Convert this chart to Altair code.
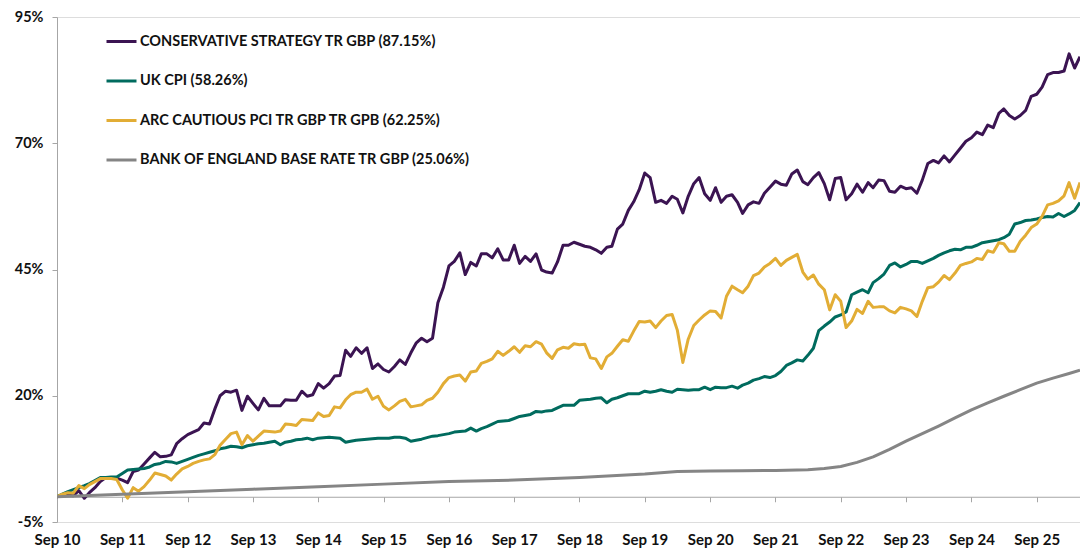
import altair as alt
import pandas as pd

# ---- data (monthly, Sep 2010 .. May 2026) ----
start_month = "2010-09-01"
n_months = 189

conservative = [
    0, 0.3, 0.6, 0.2, 1.2, -0.3, 0.8, 1.8, 3.0, 3.8, 3.8, 3.7,
    3.3, 2.8, 5.0, 5.3, 6.5, 7.7, 8.8, 7.9, 8.0, 8.3, 10.5, 11.5,
    12.3, 12.8, 13.3, 14.6, 14.4, 17.5, 20.0, 20.9, 20.7, 21.1, 17.1, 19.9,
    18.5, 17.2, 19.5, 18.0, 18.0, 18.0, 19.2, 19.1, 19.1, 20.9, 19.9, 20.2,
    22.4, 21.5, 22.4, 23.9, 24.0, 29.0, 27.8, 29.5, 28.4, 29.5, 25.4, 26.3,
    25.2, 24.7, 25.8, 27.1, 26.2, 28.5, 30.4, 31.4, 30.7, 31.4, 38.4, 41.5,
    45.7, 46.6, 48.3, 44.0, 46.4, 45.7, 48.1, 48.1, 47.3, 49.1, 46.9, 46.9,
    49.8, 46.2, 47.6, 46.6, 48.1, 44.9, 44.5, 44.3, 46.5, 49.8, 49.8, 50.4,
    50.0, 49.6, 49.4, 48.9, 48.2, 49.4, 49.6, 53.0, 54.0, 56.7, 58.4, 60.8,
    64.1, 63.2, 58.3, 58.7, 58.1, 59.5, 58.9, 56.2, 59.5, 62.0, 63.2, 60.0,
    58.7, 61.2, 58.3, 59.5, 59.8, 58.3, 56.1, 57.8, 58.4, 58.1, 60.1, 61.3,
    62.5, 61.9, 61.7, 63.9, 64.7, 62.4, 61.8, 63.2, 64.2, 62.0, 58.8, 63.0,
    63.2, 58.8, 60.0, 61.9, 60.3, 62.2, 61.2, 62.7, 62.6, 60.5, 60.3, 61.5,
    61.0, 61.2, 60.1, 62.7, 66.0, 66.6, 66.1, 67.5, 66.3, 67.7, 69.0, 70.4,
    71.1, 72.2, 71.7, 73.6, 73.1, 75.9, 76.8, 75.5, 74.8, 75.5, 76.5, 79.3,
    79.7, 81.1, 83.6, 84.0, 84.0, 84.3, 87.7, 84.9, 87.15,
]

uk_cpi = [
    0, 0.5, 1.0, 1.4, 1.8, 2.2, 2.6, 3.2, 3.8, 3.8, 3.9, 3.9,
    4.6, 5.3, 5.4, 5.5, 5.6, 5.9, 6.4, 6.6, 7.0, 6.9, 6.6, 7.0,
    7.4, 7.8, 8.2, 8.5, 8.8, 9.1, 9.5, 9.7, 10.0, 9.9, 9.7, 10.1,
    10.3, 10.5, 10.6, 10.8, 11.0, 10.3, 10.8, 11.0, 11.3, 11.4, 11.6, 11.3,
    11.6, 11.7, 11.8, 11.7, 11.6, 10.8, 11.0, 11.2, 11.3, 11.4, 11.5, 11.6,
    11.6, 11.6, 11.8, 11.8, 11.6, 11.0, 11.2, 11.4, 11.7, 12.0, 12.1, 12.3,
    12.5, 12.8, 12.9, 13.0, 13.6, 13.0, 13.5, 13.9, 14.4, 14.9, 15.0, 15.1,
    15.5, 15.9, 16.1, 16.3, 16.9, 16.8, 17.0, 17.1, 17.6, 18.1, 18.1, 18.1,
    19.1, 19.2, 19.3, 19.5, 19.6, 18.6, 19.3, 19.6, 20.0, 20.4, 20.4, 20.4,
    20.9, 20.7, 20.9, 21.2, 20.9, 20.7, 21.3, 21.2, 21.1, 21.2, 21.2, 21.7,
    21.2, 21.7, 21.6, 21.6, 21.9, 21.5, 22.1, 22.5, 23.1, 23.4, 23.8, 23.6,
    24.0, 24.8, 26.0, 26.5, 27.1, 26.9, 28.0, 29.4, 32.9, 33.8, 34.6, 35.6,
    36.0, 36.6, 40.0, 40.5, 41.0, 40.4, 42.4, 43.2, 44.1, 45.8, 46.3, 45.5,
    46.0, 46.6, 46.6, 46.2, 46.7, 47.2, 47.8, 48.3, 48.7, 49.0, 48.9, 49.4,
    49.4, 49.8, 50.3, 50.5, 50.7, 50.9, 51.3, 52.0, 54.0, 54.3, 54.7, 54.8,
    55.0, 55.3, 55.5, 55.4, 56.1, 55.5, 56.0, 56.7, 58.26,
]

arc_cautious = [
    0, 0.5, 0.8, 0.7, 2.2, 1.6, 2.4, 3.0, 3.6, 3.6, 3.6, 3.4,
    1.4, -0.3, 1.8, 1.1, 2.0, 3.3, 4.7, 4.4, 4.1, 3.3, 4.5, 5.5,
    6.0, 6.6, 7.0, 7.3, 7.5, 8.4, 10.2, 11.4, 12.5, 12.8, 10.3, 12.1,
    11.0, 12.0, 13.0, 12.9, 12.8, 13.0, 14.4, 14.3, 14.1, 15.3, 15.2, 15.1,
    16.6, 15.9, 16.1, 17.8, 17.6, 19.2, 20.2, 20.7, 20.7, 21.3, 19.3, 19.9,
    17.9, 17.2, 18.0, 18.9, 19.3, 17.8, 18.0, 18.2, 19.1, 19.5, 20.7, 22.4,
    23.6, 23.9, 24.1, 22.9, 24.7, 24.9, 26.4, 26.8, 27.3, 28.8, 28.0, 28.8,
    29.7, 28.6, 29.9, 29.7, 30.7, 30.2, 28.5, 27.4, 29.1, 29.6, 29.4, 30.3,
    30.1, 30.2, 27.5, 27.3, 25.4, 27.7, 28.4, 29.8, 31.1, 30.8, 32.8, 34.7,
    34.6, 34.8, 33.5, 34.8, 35.9, 36.1, 33.0, 26.6, 31.2, 33.9, 35.0, 36.0,
    36.8, 36.7, 35.4, 39.7, 41.7, 41.0, 40.4, 41.7, 43.8, 44.3, 45.5, 46.2,
    47.2, 45.8, 46.8, 47.4, 48.0, 44.5, 43.1, 43.9, 42.1, 41.0, 37.0, 40.0,
    38.7, 33.5, 34.8, 37.1, 36.3, 38.7, 37.5, 37.6, 37.6, 36.8, 36.4, 37.5,
    37.2, 36.8, 35.7, 38.7, 41.4, 41.6, 42.5, 43.8, 43.0, 44.3, 45.8, 46.2,
    46.5, 47.2, 47.0, 48.7, 48.4, 50.3, 50.1, 48.6, 48.6, 50.6, 51.8, 53.3,
    54.0, 55.5, 57.8, 58.1, 58.6, 59.6, 62.2, 59.1, 62.25,
]

# Bank of England base rate: smooth curve, read at these month indices
boe_month_idx = [0, 12, 24, 36, 48, 60, 72, 84, 96, 108, 114, 120, 126, 132, 138,
                 141, 144, 147, 150, 153, 156, 159, 162, 165, 168, 171, 174, 177,
                 180, 183, 186, 188]
boe_values = [0, 0.5, 1.0, 1.5, 2.0, 2.5, 3.0, 3.3, 3.8, 4.5, 5.0, 5.1, 5.15, 5.2, 5.35,
              5.6, 6.0, 6.8, 7.9, 9.4, 11.0, 12.5, 14.0, 15.6, 17.2, 18.6, 19.9, 21.2,
              22.5, 23.5, 24.4, 25.06]

series_names = [
    "CONSERVATIVE STRATEGY TR GBP (87.15%)",
    "UK CPI (58.26%)",
    "ARC CAUTIOUS PCI TR GBP TR GPB (62.25%)",
    "BANK OF ENGLAND BASE RATE TR GBP (25.06%)",
]
series_colors = ["#3b1452", "#006b5e", "#e2ad35", "#858585"]

y_ticks = [-5, 20, 45, 70, 95]
x_tick_years = list(range(2010, 2026))

# ---- build table ----
dates = pd.date_range(start_month, periods=n_months, freq="MS")
rows = []
for name, vals in zip(series_names[:3], [conservative, uk_cpi, arc_cautious]):
    for d, v in zip(dates, vals):
        rows.append({"date": d.strftime("%Y-%m-%d"), "value": v, "series": name})
for i, v in zip(boe_month_idx, boe_values):
    rows.append({"date": dates[i].strftime("%Y-%m-%d"), "value": v, "series": series_names[3]})
df = pd.DataFrame(rows)
df["order"] = df["series"].map({n: 3 - k for k, n in enumerate(series_names)})

FONT = "Lato"
W, H = 1023, 505
YMIN, YMAX = -5, 95
axis_offset = -H * (0 - YMIN) / (YMAX - YMIN)

x_axis = alt.Axis(
    values=[alt.DateTime(year=y, month=9, date=1, utc=True) for y in x_tick_years],
    format="%b %y",
    offset=axis_offset,
    tickSize=5,
    labelPadding=31,
    domainColor="#a6a6a6",
    tickColor="#a6a6a6",
    labelFont=FONT,
    labelFontSize=15,
    labelFontWeight="bold",
    labelColor="#111111",
    grid=False,
    title=None,
    labelFlush=False,
    labelOverlap=False,
)
y_axis = alt.Axis(
    values=y_ticks,
    labelExpr="datum.value + '%'",
    tickSize=5,
    labelPadding=9,
    domainColor="#a6a6a6",
    tickColor="#a6a6a6",
    labelFont=FONT,
    labelFontSize=14.5,
    labelFontWeight="bold",
    labelColor="#111111",
    grid=False,
    title=None,
)

chart = (
    alt.Chart(df)
    .mark_line(strokeWidth=3, strokeJoin="round", clip=True)
    .encode(
        x=alt.X(
            "date:T",
            scale=alt.Scale(
                type="utc",
                domain=[alt.DateTime(year=2010, month=9, date=1, utc=True),
                        alt.DateTime(year=2026, month=5, date=1, utc=True)],
            ),
            axis=x_axis,
        ),
        y=alt.Y("value:Q", scale=alt.Scale(domain=[YMIN, YMAX], nice=False, zero=False), axis=y_axis),
        color=alt.Color(
            "series:N",
            scale=alt.Scale(domain=series_names, range=series_colors),
            legend=alt.Legend(
                title=None,
                orient="none",
                legendX=48,
                legendY=8,
                direction="vertical",
                symbolType="stroke",
                symbolStrokeWidth=3,
                symbolSize=900,
                labelFont=FONT,
                labelFontSize=14.5,
                labelFontWeight="bold",
                labelColor="#111111",
                labelOffset=2,
                rowPadding=16.5,
                labelLimit=700,
                padding=0,
            ),
        ),
        order=alt.Order("order:Q"),
    )
    .properties(
        width=W,
        height=H,
        autosize=alt.AutoSizeParams(type="none"),
        padding={"left": 57, "top": 17, "right": 0, "bottom": 27},
    )
    .configure_view(stroke=None)
    .configure(background="white")
)

chart.save("out.html", embed_options={"renderer": "svg", "actions": False})
